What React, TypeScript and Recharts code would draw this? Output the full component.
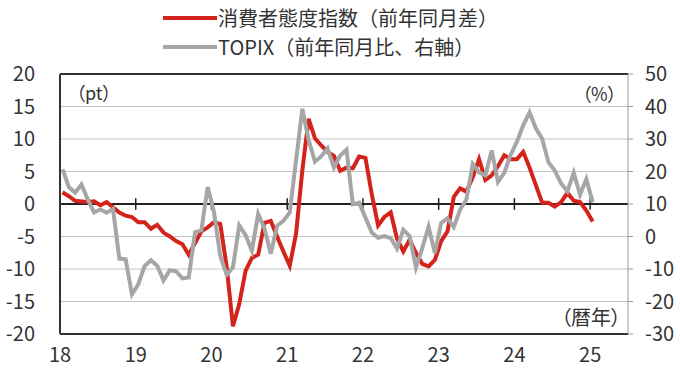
import { CartesianGrid, Line, LineChart, ReferenceLine, XAxis, YAxis } from "recharts"

// monthly, Jan 2018 .. Jan 2025
const startYear = 18
const consumerDiff = [
  1.8, 1.2, 0.5, 0.4, 0.3, 0.4, -0.2, 0.3, -0.5, -1.3, -1.8, -2.0,
  -2.8, -2.8, -3.8, -3.2, -4.4, -5.0, -5.7, -6.2, -7.8, -6.0, -4.2, -3.6,
  -2.8, -3.1, -9.6, -18.8, -15.4, -10.3, -8.3, -7.8, -2.9, -2.6, -5.0, -7.3,
  -9.5, -4.6, 5.2, 13.1, 10.1, 9.0, 8.0, 7.4, 5.1, 5.6, 5.5, 7.3,
  7.1, 1.5, -3.3, -2.0, -1.3, -5.3, -7.3, -5.5, -7.5, -9.2, -9.6, -8.6,
  -5.7, -4.2, 1.1, 2.4, 1.9, 4.1, 6.9, 3.7, 4.4, 5.8, 7.5, 6.9,
  6.9, 8.0, 5.6, 2.9, 0.2, 0.2, -0.4, 0.3, 1.7, 0.5, 0.3, -1.0,
  -2.7,
]
const topixYoY = [
  20.7, 15.2, 13.5, 16.0, 11.4, 7.4, 8.3, 7.3, 8.5, -6.8, -7.0, -17.8,
  -14.7, -9.1, -7.3, -9.0, -13.5, -10.4, -10.7, -12.9, -12.6, 1.3, 1.9, 15.2,
  7.5, -6.0, -11.8, -9.5, 3.4, 0.5, -4.4, 7.0, 2.4, -5.3, 3.3, 4.8,
  7.4, 23.4, 39.3, 29.7, 23.0, 24.7, 27.1, 21.2, 24.9, 26.7, 9.9, 10.4,
  5.8, 1.2, -0.4, 0.1, -0.5, -3.7, 2.1, 0.1, -9.6, -3.6, 3.0, -5.1,
  4.2, 5.6, 2.9, 8.3, 11.4, 22.3, 19.7, 18.8, 26.5, 16.8, 19.6, 25.1,
  29.2, 34.2, 38.2, 33.3, 30.1, 22.8, 20.3, 16.3, 13.9, 19.6, 12.9, 17.7,
  10.5,
]
const yearTicks = [0, 12, 24, 36, 48, 60, 72, 84]
const leftTicks = [-20, -15, -10, -5, 0, 5, 10, 15, 20]
const rightTicks = [-30, -20, -10, 0, 10, 20, 30, 40, 50]

const data = consumerDiff.map((v, i) => ({ x: i + 0.4, cci: v, topix: topixYoY[i] }))

const RED = "#d3231b"
const GRAY = "#a6a6a6"
const FONT = '"Noto Sans CJK JP", "Noto Sans", sans-serif'
const tickStyle = { fontSize: 20, fill: "#333", fontFamily: FONT }

const textBase: React.CSSProperties = {
  position: "absolute",
  fontFamily: FONT,
  color: "#333",
  whiteSpace: "nowrap",
  fontFeatureSettings: '"palt"',
}

export default function App() {
  return (
    <div style={{ position: "absolute", left: 0, top: 0, width: 680, height: 378, background: "#fff" }}>
      <LineChart width={680} height={378} data={data} margin={{ top: 74, right: 0, bottom: 0, left: 0 }}>
        <CartesianGrid yAxisId="left" vertical={false} stroke="#c4c4c4" />
        <XAxis
          type="number"
          dataKey="x"
          domain={[0, 90]}
          ticks={yearTicks}
          tickFormatter={(v) => String(startYear + v / 12)}
          axisLine={false}
          tickLine={false}
          tickSize={0}
          tickMargin={14}
          height={44}
          tick={tickStyle}
        />
        <YAxis
          yAxisId="left"
          domain={[-20, 20]}
          ticks={leftTicks}
          width={60}
          axisLine={{ stroke: "#333", strokeWidth: 2 }}
          tickLine={false}
          tickSize={0}
          tickMargin={25}
          tick={tickStyle}
        />
        <YAxis
          yAxisId="right"
          orientation="right"
          domain={[-30, 50]}
          ticks={rightTicks}
          width={52}
          axisLine={{ stroke: "#999" }}
          tickLine={{ stroke: "#999" }}
          tickSize={5}
          tickMargin={12}
          tick={tickStyle}
        />
        <ReferenceLine yAxisId="left" y={20} stroke="#333" strokeWidth={2} />
        <ReferenceLine yAxisId="left" y={-20} stroke="#333" strokeWidth={2} />
        <ReferenceLine yAxisId="left" y={0} stroke="#222" strokeWidth={2} />
        {yearTicks.slice(1).map((t) => (
          <ReferenceLine
            key={t}
            yAxisId="left"
            segment={[{ x: t, y: -0.9 }, { x: t, y: 0.9 }]}
            stroke="#222"
            strokeWidth={1.5}
          />
        ))}
        <Line
          yAxisId="left"
          type="linear"
          dataKey="cci"
          stroke={RED}
          strokeWidth={4}
          dot={false}
          isAnimationActive={false}
        />
        <Line
          yAxisId="right"
          type="linear"
          dataKey="topix"
          stroke={GRAY}
          strokeWidth={4}
          dot={false}
          isAnimationActive={false}
        />
      </LineChart>

      {/* legend */}
      <div style={{ position: "absolute", left: 163, top: 16, width: 54, height: 4, background: RED }} />
      <div style={{ ...textBase, fontFeatureSettings: "normal", left: 218, top: 7, fontSize: 20, lineHeight: "22px" }}>
        消費者態度指数（前年同月差）
      </div>
      <div style={{ position: "absolute", left: 163, top: 45, width: 54, height: 4, background: GRAY }} />
      <div style={{ ...textBase, fontFeatureSettings: "normal", left: 218, top: 36, fontSize: 20, lineHeight: "22px" }}>
        TOPIX（前年同月比、右軸）
      </div>

      {/* units */}
      <div style={{ ...textBase, left: 76, top: 82, fontSize: 18, lineHeight: "20px" }}>（pt）</div>
      <div style={{ ...textBase, left: 582, top: 83, fontSize: 18, lineHeight: "20px" }}>（%）</div>
      <div style={{ ...textBase, left: 561, top: 306, fontSize: 20, lineHeight: "22px" }}>（暦年）</div>
    </div>
  )
}
